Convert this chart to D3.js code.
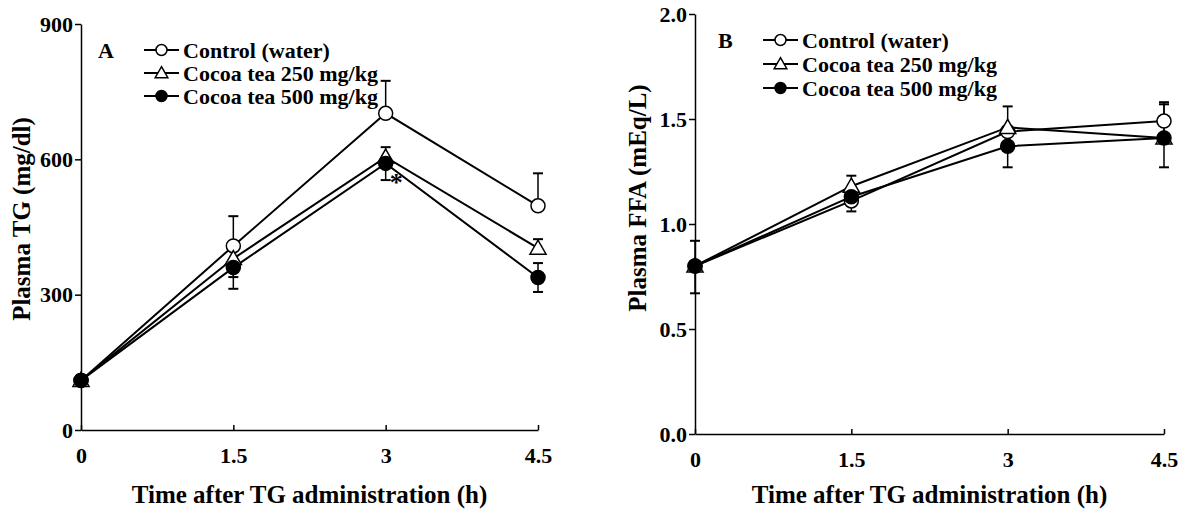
<!DOCTYPE html>
<html>
<head>
<meta charset="utf-8">
<script src="https://cdn.jsdelivr.net/npm/d3@7"></script>
<style>
  html, body { margin: 0; padding: 0; background: #fff; }
  svg { display: block; font-family: "Liberation Serif", "Times New Roman", serif; font-weight: bold; }
  .axis path, .axis line { stroke: #000; stroke-width: 1.5; }
</style>
</head>
<body>
<div id="chart"></div>
<script>
// Time points (h)
const times = [0, 1.5, 3, 4.5];
const seriesNames = ["Control (water)", "Cocoa tea 250 mg/kg", "Cocoa tea 500 mg/kg"];
const seriesMarkers = ["openCircle", "openTriangle", "filledCircle"];

// Panel A: plasma TG (mg/dl)
const tgControl = [110, 408, 702, 497];
const tg250     = [110, 380, 605, 403];
const tg500     = [110, 360, 591, 338];
// error bars [up, down] per time point
const tgControlErr = [[0, 0], [66, 0], [72, 0], [72, 0]];
const tg250Err     = [[0, 0], [0, 41], [22, 0], [20, 0]];
const tg500Err     = [[12, 12], [0, 47], [0, 37], [32, 32]];
const tgTicks = [0, 300, 600, 900];

// Panel B: plasma FFA (mEq/L)
const ffaControl = [0.80, 1.11, 1.44, 1.49];
const ffa250     = [0.80, 1.18, 1.46, 1.41];
const ffa500     = [0.80, 1.13, 1.37, 1.41];
const ffaControlErr = [[0, 0], [0, 0.05], [0, 0], [0.09, 0]];
const ffa250Err     = [[0, 0], [0.05, 0], [0.10, 0], [0.16, 0]];
const ffa500Err     = [[0.12, 0.13], [0, 0], [0, 0.10], [0, 0.14]];
const ffaTicks = [0, 0.5, 1.0, 1.5, 2.0];

const xTickLabels = ["0", "1.5", "3", "4.5"];

const W = 1182, H = 510;
const svg = d3.select("#chart").append("svg").attr("width", W).attr("height", H);

function marker(g, type, cx, cy, r) {
  if (type === "openCircle") {
    g.append("circle").attr("cx", cx).attr("cy", cy).attr("r", r)
      .attr("fill", "#fff").attr("stroke", "#000").attr("stroke-width", 1.5);
  } else if (type === "filledCircle") {
    g.append("circle").attr("cx", cx).attr("cy", cy).attr("r", r)
      .attr("fill", "#000").attr("stroke", "#000").attr("stroke-width", 1.5);
  } else {
    const s = r * 1.15;
    g.append("path")
      .attr("d", `M${cx},${cy - s} L${cx + s},${cy + s * 0.75} L${cx - s},${cy + s * 0.75} Z`)
      .attr("fill", "#fff").attr("stroke", "#000").attr("stroke-width", 1.5);
  }
}

function styleTicks(sel) {
  sel.attr("font-size", null).attr("font-family", null);
  sel.selectAll("text")
    .style("font-size", "22px")
    .style("font-family", '"Liberation Serif", "Times New Roman", serif')
    .style("font-weight", "bold")
    .attr("fill", "#000");
}

function panel(opt) {
  const g = svg.append("g");
  const x = d3.scaleLinear().domain([0, 4.5]).range(opt.xRange);
  const y = d3.scaleLinear().domain(opt.yDomain).range(opt.yRange);

  // axes
  g.append("g").attr("class", "axis").attr("transform", `translate(0,${opt.yRange[0]})`)
    .call(d3.axisBottom(x).tickValues(times).tickFormat((d, i) => xTickLabels[i])
      .tickSizeInner(-5).tickSizeOuter(0).tickPadding(17))
    .call(styleTicks);
  g.append("g").attr("class", "axis").attr("transform", `translate(${opt.xRange[0]},0)`)
    .call(d3.axisLeft(y).tickValues(opt.ticks).tickFormat(opt.fmt)
      .tickSizeInner(6).tickSizeOuter(0).tickPadding(2))
    .call(styleTicks);

  // axis titles
  g.append("text")
    .attr("x", (opt.xRange[0] + opt.xRange[1]) / 2).attr("y", 503)
    .attr("text-anchor", "middle").attr("font-size", "25px")
    .text("Time after TG administration (h)");
  g.append("text")
    .attr("transform", `translate(${opt.yTitleX},${opt.yTitleY}) rotate(-90)`)
    .attr("text-anchor", "middle").attr("font-size", "25px")
    .text(opt.yTitle);

  const line = d3.line().x((d, i) => x(times[i])).y(d => y(d));

  // error bars
  opt.errs.forEach((errs, si) => {
    errs.forEach((e, i) => {
      const v = opt.series[si][i];
      const cx = x(times[i]);
      [[e[0], 1], [e[1], -1]].forEach(([val, dir]) => {
        if (!val) return;
        const yEnd = y(v + dir * val);
        g.append("line").attr("x1", cx).attr("x2", cx).attr("y1", y(v)).attr("y2", yEnd)
          .attr("stroke", "#000").attr("stroke-width", 1.5);
        g.append("line").attr("x1", cx - 5).attr("x2", cx + 5).attr("y1", yEnd).attr("y2", yEnd)
          .attr("stroke", "#000").attr("stroke-width", 2);
      });
    });
  });

  // lines
  opt.series.forEach(vals => {
    g.append("path").attr("d", line(vals)).attr("fill", "none")
      .attr("stroke", "#000").attr("stroke-width", 2);
  });

  // markers
  opt.series.forEach((vals, si) => {
    vals.forEach((v, i) => marker(g, seriesMarkers[si], x(times[i]), y(v), 7));
  });

  // panel letter
  g.append("text").attr("x", opt.letterX).attr("y", opt.legendY0 + 8)
    .attr("font-size", "22px").text(opt.letter);

  // legend
  seriesNames.forEach((name, i) => {
    const ly = opt.legendY0 + i * opt.legendStep;
    g.append("line").attr("x1", opt.legendX).attr("x2", opt.legendX + 35)
      .attr("y1", ly).attr("y2", ly).attr("stroke", "#000").attr("stroke-width", 1.8);
    marker(g, seriesMarkers[i], opt.legendX + 17.5, ly, 5.5);
    g.append("text").attr("x", opt.legendX + 39).attr("y", ly + 7.5)
      .attr("font-size", "22px").text(name);
  });

  return { g, x, y };
}

const A = panel({
  xRange: [81, 538], yRange: [430, 24], yDomain: [0, 900], ticks: tgTicks,
  fmt: d3.format("d"),
  series: [tgControl, tg250, tg500], errs: [tgControlErr, tg250Err, tg500Err],
  yTitle: "Plasma TG (mg/dl)", yTitleX: 30, yTitleY: 219,
  letter: "A", letterX: 98, legendX: 144, legendY0: 50, legendStep: 23
});
// significance mark
A.g.append("text").attr("x", A.x(3) + 4).attr("y", A.y(591) + 28)
  .attr("font-size", "26px").text("*");

panel({
  xRange: [695, 1164], yRange: [434, 14], yDomain: [0, 2], ticks: ffaTicks,
  fmt: d3.format(".1f"),
  series: [ffaControl, ffa250, ffa500], errs: [ffaControlErr, ffa250Err, ffa500Err],
  yTitle: "Plasma FFA (mEq/L)", yTitleX: 646, yTitleY: 198,
  letter: "B", letterX: 718, legendX: 763, legendY0: 40, legendStep: 24
});
</script>
</body>
</html>
